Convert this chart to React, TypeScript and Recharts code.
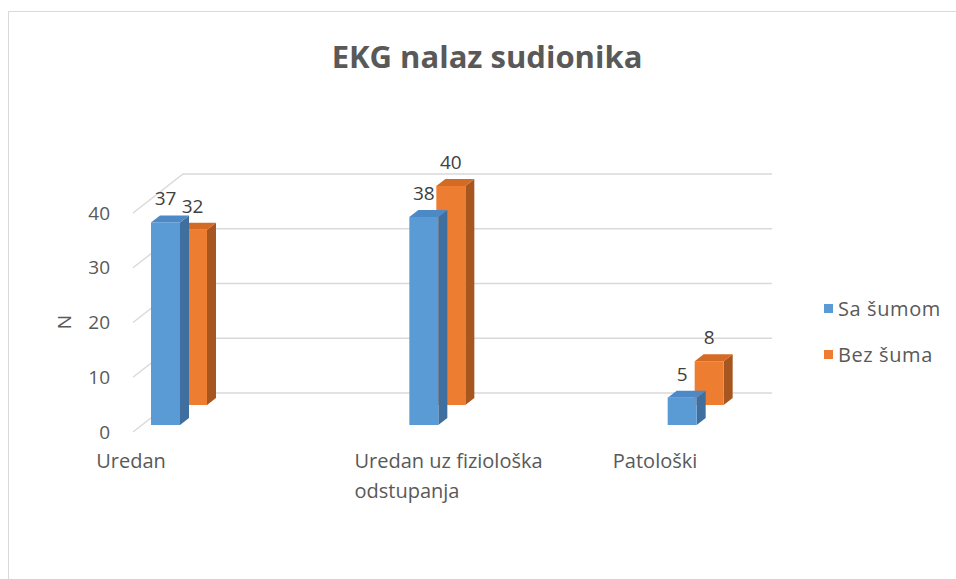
import { BarChart, Bar, XAxis, YAxis, CartesianGrid, LabelList, Legend } from 'recharts';

const categories = ['Uredan', 'Uredan uz fiziološka odstupanja', 'Patološki'];
const saSumom = [37, 38, 5];
const bezSuma = [32, 40, 8];
const yTicks = [0, 10, 20, 30, 40];
const seriesNames = ['Sa šumom', 'Bez šuma'];

const data = categories.map((name, i) => ({
  name,
  saSumom: saSumom[i],
  bezSuma: bezSuma[i],
}));

const BLUE = { front: '#5B9BD5', side: '#3F6F9E', top: '#4C89C6' };
const ORANGE = { front: '#ED7D31', side: '#A8561F', top: '#D46B25' };
const DX = 9;
const DY = 7;
const BACK_ROW = 20; // second series stands one row further back
const FONT = '"Open Sans", "Noto Sans", sans-serif';
const TEXT = '#595959';
const GRID = '#D9D9D9';

const prism = (colors: typeof BLUE, lift: number) => (props: any) => {
  const { x, y, width, height } = props;
  const top = y - lift;
  const bottom = y + height - lift;
  const right = x + width;
  return (
    <g>
      <polygon
        points={`${right},${top} ${right + DX},${top - DY} ${right + DX},${bottom - DY} ${right},${bottom}`}
        fill={colors.side}
      />
      <polygon
        points={`${x},${top} ${x + DX},${top - DY} ${right + DX},${top - DY} ${right},${top}`}
        fill={colors.top}
      />
      <rect x={x} y={top} width={width} height={height} fill={colors.front} />
    </g>
  );
};

const valueLabel = (lift: number) => (props: any) => {
  const { x, y, width, value } = props;
  return (
    <text
      x={Number(x) + Number(width) / 2}
      y={Number(y) - lift - 17}
      textAnchor="middle"
      fontFamily={FONT}
      fontSize={19}
      fill="#404040"
    >
      {value}
    </text>
  );
};

// back wall lines, with the slanted piece running out to the value labels
const backWall = (props: any) => {
  const { x1, x2, y1, index } = props;
  const pts = `${x1 + 83},${y1 + 7} ${x1 + 133},${y1 - 32} ${x2 - 53},${y1 - 32}`;
  return <polyline key={`wall-${index}`} points={pts} fill="none" stroke={GRID} strokeWidth={1.4} />;
};

const yTick = (props: any) => {
  const { y, payload } = props;
  return (
    <text x={102} y={y + 7} dy="0.35em" textAnchor="end" fontFamily={FONT} fontSize={19} fill={TEXT}>
      {payload.value}
    </text>
  );
};

const wrap = (s: string, max: number) => {
  const lines: string[] = [];
  let cur = '';
  s.split(' ').forEach((w) => {
    if (cur && (cur + ' ' + w).length > max) {
      lines.push(cur);
      cur = w;
    } else {
      cur = cur ? cur + ' ' + w : w;
    }
  });
  if (cur) lines.push(cur);
  return lines;
};

const xTick = (props: any) => {
  const { x, payload } = props;
  const lx = x - 83;
  return (
    <text x={lx} y={460} textAnchor="start" fontFamily={FONT} fontSize={20} fill={TEXT}>
      {wrap(payload.value, 20).map((l, i) => (
        <tspan key={i} x={lx} dy={i ? 30 : 0}>
          {l}
        </tspan>
      ))}
    </text>
  );
};

const legendContent = () => (
  <div style={{ fontFamily: FONT, fontSize: 20, letterSpacing: 0.6, color: TEXT }}>
    {seriesNames.map((n, i) => (
      <div key={n} style={{ display: 'flex', alignItems: 'center', height: 20, marginBottom: 26 }}>
        <span
          style={{
            width: 9,
            height: 9,
            background: i === 0 ? BLUE.front : ORANGE.front,
            marginRight: 5,
            display: 'inline-block',
          }}
        />
        <span style={{ whiteSpace: 'nowrap' }}>{n}</span>
      </div>
    ))}
  </div>
);

export default function App() {
  return (
    <div style={{ position: 'fixed', left: 0, top: 0, width: 956, height: 579, overflow: 'hidden', background: '#fff' }}>
      <div style={{ position: 'absolute', left: 8, top: 8, width: 948, height: 571 }}>
        <div
          style={{
            position: 'absolute',
            left: 0,
            top: 3,
            width: 1000,
            height: 1000,
            borderTop: `1px solid ${GRID}`,
            borderLeft: `1px solid ${GRID}`,
            boxSizing: 'border-box',
          }}
        />
        <div
          style={{
            position: 'absolute',
            left: 0,
            width: 958,
            top: 33,
            textAlign: 'center',
            fontFamily: FONT,
            fontWeight: 700,
            fontSize: 31,
            lineHeight: '31px',
            color: TEXT,
          }}
        >
          EKG nalaz sudionika
        </div>
        <div
          style={{
            position: 'absolute',
            left: 46,
            top: 304,
            width: 20,
            height: 20,
            lineHeight: '20px',
            textAlign: 'center',
            transform: 'rotate(-90deg)',
            fontFamily: FONT,
            fontSize: 19,
            color: TEXT,
          }}
        >
          N
        </div>
        <div style={{ position: 'absolute', left: 0, top: 0 }}>
          <BarChart
            width={948}
            height={571}
            data={data}
            margin={{ top: 198, right: 131, bottom: 94, left: 2 }}
            barSize={29}
            barGap={-56}
          >
            <CartesianGrid vertical={false} horizontal={backWall} />
            <XAxis dataKey="name" axisLine={false} tickLine={false} height={60} tick={xTick} interval={0} />
            <YAxis
              domain={[0, 40]}
              ticks={yTicks}
              width={40}
              axisLine={false}
              tickLine={false}
              tick={yTick}
              interval={0}
            />
            <Legend
              layout="vertical"
              align="center"
              verticalAlign="middle"
              content={legendContent}
              wrapperStyle={{ left: 816, top: 290, width: 130 }}
            />
            <Bar dataKey="bezSuma" name={seriesNames[1]} fill={ORANGE.front} shape={prism(ORANGE, BACK_ROW)} isAnimationActive={false}>
              <LabelList dataKey="bezSuma" content={valueLabel(BACK_ROW)} />
            </Bar>
            <Bar dataKey="saSumom" name={seriesNames[0]} fill={BLUE.front} shape={prism(BLUE, 0)} isAnimationActive={false}>
              <LabelList dataKey="saSumom" content={valueLabel(0)} />
            </Bar>
          </BarChart>
        </div>
      </div>
    </div>
  );
}
